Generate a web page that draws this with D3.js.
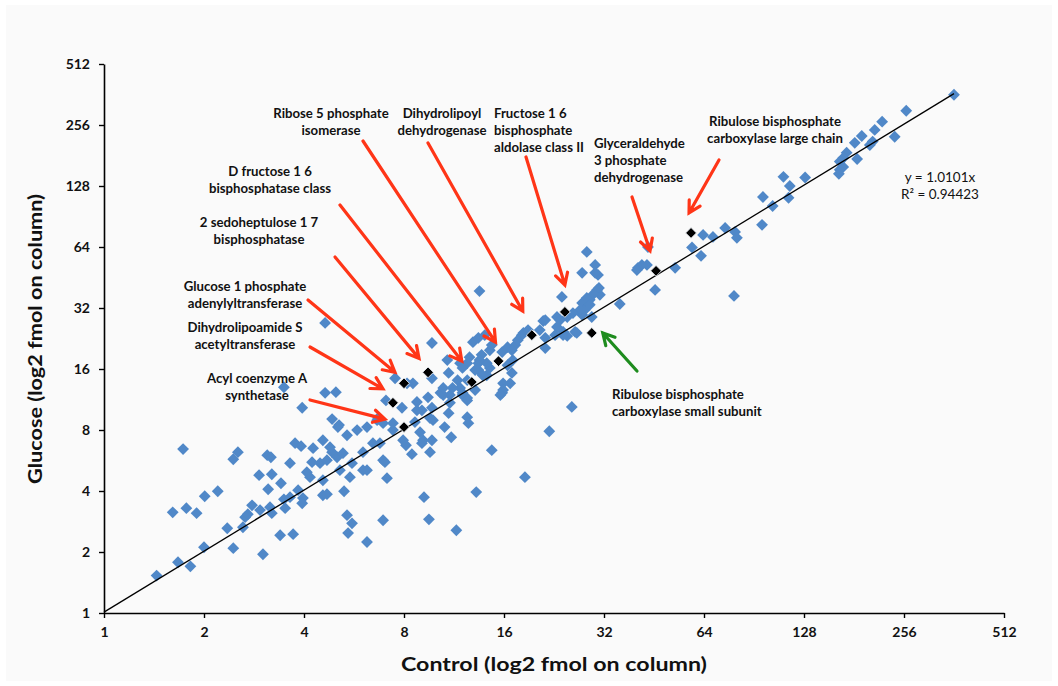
<!DOCTYPE html>
<html>
<head>
<meta charset="utf-8">
<script src="https://cdn.jsdelivr.net/npm/d3@7"></script>
<style>
  body { margin: 0; background: #ffffff; }
  svg text { font-family: Lato, "Open Sans", "Liberation Sans", sans-serif; fill: #111; }
</style>
</head>
<body>
<svg id="chart" width="1058" height="686"></svg>
<script>
// Protein amounts per spot, fmol on column: control vs glucose-grown cells
const controlValues = [
  1.44,1.67,1.82,1.73,1.61,1.77,1.90,2.00,2.01,2.20,2.35,2.45,2.45,2.53,2.62,2.66,2.71,2.79,2.93,2.95,
  3.01,3.10,3.18,3.12,3.16,3.20,3.20,3.39,3.41,3.48,3.51,3.48,3.63,3.63,3.71,3.76,3.92,3.84,3.97,3.95,
  3.95,4.17,4.23,4.47,4.56,4.56,4.69,4.86,4.63,4.99,5.06,5.03,5.24,4.79,4.86,5.28,5.39,5.43,5.10,5.58,
  6.19,6.02,4.63,5.39,5.78,6.19,6.64,6.92,4.69,5.58,6.02,6.45,4.26,4.08,4.56,5.13,5.50,7.11,6.77,6.92,
  7.41,7.06,7.52,7.89,8.75,9.45,9.71,10.5,10.9,9.78,10.6,11.1,9.13,8.11,8.45,9.58,6.68,7.41,8.63,8.94,
  9.58,9.71,9.06,7.95,7.01,6.19,8.51,9.06,8.75,9.71,10.9,11.8,10.8,10.3,11.0,10.5,12.4,12.6,12.0,11.6,
  11.8,12.4,12.4,12.5,13.4,13.8,13.4,12.9,13.4,14.0,14.5,13.7,15.8,16.4,17.3,18.3,21.0,21.3,23.1,17.0,
  16.9,15.9,15.8,14.7,21.9,18.5,9.71,14.5,11.2,12.0,13.5,23.9,27.5,30.1,30.7,28.4,41.6,40.5,45.6,35.7,
  30.5,31.1,29.0,27.5,28.0,24.8,23.6,23.1,24.1,24.8,26.2,27.5,21.3,20.5,18.9,18.1,17.6,21.3,22.8,26.5,
  16.9,16.4,16.7,15.9,15.6,25.6,14.7,14.2,13.5,14.2,13.1,12.4,13.1,12.0,12.4,11.0,8.17,30.1,30.9,29.6,
  28.4,29.0,29.4,27.1,25.8,24.1,40.2,43.1,43.4,52.4,58.9,62.7,63.6,68.1,74.1,79.4,80.4,95.7,78.8,362,
  260,220,209,191,182,206,202,240,172,168,164,185,168,164,163,129,111,116,115,103,
  96.3,13.2,11.5,9.19,9.51,6.92
];
const glucoseValues = [
  1.53,1.78,1.70,6.44,3.14,3.29,3.11,2.11,3.77,3.99,2.62,2.09,5.74,6.22,2.65,2.97,3.07,3.40,4.79,3.22,
  1.95,6.01,5.87,4.08,3.33,4.84,3.11,2.42,4.37,13.0,3.29,3.64,3.73,5.49,2.45,6.89,6.66,4.04,3.69,3.48,
  10.3,4.68,5.55,5.49,7.12,3.81,3.86,6.22,12.2,12.3,8.27,5.87,6.15,6.58,9.06,3.99,3.04,2.48,8.46,2.77,
  2.24,5.07,27.0,7.54,7.99,8.27,8.95,8.65,5.68,5.49,6.22,6.89,6.51,4.95,4.52,5.07,4.68,4.63,6.89,5.68,
  7.99,11.2,14.4,10.3,11.0,11.6,10.3,11.9,9.69,8.95,8.27,7.37,7.12,6.73,6.08,6.22,9.16,8.65,8.75,7.80,
  9.16,7.12,6.89,7.12,5.55,5.07,13.6,10.0,10.0,14.4,15.3,17.1,17.7,12.2,11.9,12.9,17.1,18.3,16.2,14.1,
  12.9,11.5,9.26,8.65,15.8,14.9,17.1,21.7,22.8,23.5,19.8,18.8,19.4,20.5,21.0,24.1,27.6,20.3,28.9,17.7,
  15.3,13.6,12.2,6.36,7.89,4.68,21.5,16.2,12.9,11.9,38.8,36.3,47.7,52.2,46.6,60.5,52.2,50.5,39.3,33.5,
  39.3,37.2,35.1,33.9,31.3,28.9,27.9,25.8,24.4,23.3,24.4,29.6,27.9,24.9,24.9,23.5,22.2,22.8,23.5,24.1,
  19.8,16.7,13.6,12.6,11.9,10.4,21.0,17.1,17.7,14.9,15.8,14.1,12.6,12.2,11.2,10.9,13.6,47.7,40.2,37.2,
  35.9,33.2,28.9,31.3,30.2,23.5,49.3,52.2,64.0,50.5,63.7,57.9,73.4,71.8,79.5,76.0,71.0,82.3,36.7,361,
  301,266,242,226,209,212,204,224,187,176,169,174,159,154,147,141,142,128,112,102,
  113,3.95,2.56,3.73,2.90,2.87
];

// Named proteins picked out in black
const namedProteins = [
  "Acyl coenzyme A synthetase",
  "Dihydrolipoamide S acetyltransferase",
  "Glucose 1 phosphate adenylyltransferase",
  "2 sedoheptulose 1 7 bisphosphatase",
  "D fructose 1 6 bisphosphatase class",
  "Ribose 5 phosphate isomerase",
  "Dihydrolipoyl dehydrogenase",
  "Fructose 1 6 bisphosphate aldolase class II",
  "Ribulose bisphosphate carboxylase small subunit",
  "Glyceraldehyde 3 phosphate dehydrogenase",
  "Ribulose bisphosphate carboxylase large chain"
];
const namedControl = [8.0, 7.41, 8.0, 9.45, 12.8, 15.4, 19.4, 24.4, 29.4, 45.9, 58.5];
const namedGlucose = [8.27, 10.9, 13.6, 15.4, 13.8, 17.5, 23.5, 30.6, 24.1, 48.8, 75.1];

const axisTicks = [1, 2, 4, 8, 16, 32, 64, 128, 256, 512];
const fitSlope = 1.0101;
const fitR2 = 0.94423;

// Annotation layout: label lines, text anchor, and arrow tail; the arrow tip
// sits next to the protein's own marker (offset in px).
const annotations = [
  { name: namedProteins[5], lines: ["Ribose 5 phosphate", "isomerase"], tx: 331, ty: 113, anchor: "middle", tail: [363, 141], tipOff: [-3, -19], color: "#ff3517" },
  { name: namedProteins[6], lines: ["Dihydrolipoyl", "dehydrogenase"], tx: 442, ty: 113, anchor: "middle", tail: [428, 143], tipOff: [-9, -24], color: "#ff3517" },
  { name: namedProteins[7], lines: ["Fructose 1 6", "bisphosphate", "aldolase class II"], tx: 494, ty: 113, anchor: "start", tail: [526, 157], tipOff: [0, -27], color: "#ff3517" },
  { name: namedProteins[9], lines: ["Glyceraldehyde", "3 phosphate", "dehydrogenase"], tx: 594, ty: 143, anchor: "start", tail: [632, 197], tipOff: [-6, -20], color: "#ff3517" },
  { name: namedProteins[10], lines: ["Ribulose bisphosphate", "carboxylase large chain"], tx: 775, ty: 121, anchor: "middle", tail: [719, 160], tipOff: [-2, -20], color: "#ff3517" },
  { name: namedProteins[4], lines: ["D fructose 1 6", "bisphosphatase class"], tx: 270, ty: 171, anchor: "middle", tail: [340, 205], tipOff: [-10, -21], color: "#ff3517" },
  { name: namedProteins[3], lines: ["2 sedoheptulose 1 7", "bisphosphatase"], tx: 259, ty: 222, anchor: "middle", tail: [335, 257], tipOff: [-9, -14], color: "#ff3517" },
  { name: namedProteins[2], lines: ["Glucose 1 phosphate", "adenylyltransferase"], tx: 245, ty: 286, anchor: "middle", tail: [308, 300], tipOff: [-9, -11], color: "#ff3517" },
  { name: namedProteins[1], lines: ["Dihydrolipoamide S", "acetyltransferase"], tx: 245, ty: 327, anchor: "middle", tail: [310, 347], tipOff: [-10, -14], color: "#ff3517" },
  { name: namedProteins[0], lines: ["Acyl coenzyme A", "synthetase"], tx: 257, ty: 378, anchor: "middle", tail: [310, 400], tipOff: [-19, -8], color: "#ff3517" },
  { name: namedProteins[8], lines: ["Ribulose bisphosphate", "carboxylase small subunit"], tx: 612, ty: 394, anchor: "start", tail: [637, 371], tipOff: [11, 0], color: "#1e8c1e" }
];

const svg = d3.select("#chart");
const W = 1058, H = 686;

// faint panel behind the whole chart
svg.append("rect").attr("x", 6).attr("y", 5).attr("width", W - 12).attr("height", H - 10)
  .attr("fill", "#fafafa");

const x = d3.scaleLog().base(2).domain([1, 512]).range([104, 1004]);
const y = d3.scaleLog().base(2).domain([1, 512]).range([613, 64]);

// axes
const fmt = d3.format("d");
const xAxis = svg.append("g").attr("transform", `translate(0,${y(1)})`)
  .call(d3.axisBottom(x).tickValues(axisTicks).tickFormat(fmt).tickSize(5).tickSizeOuter(0).tickPadding(9));
const yAxis = svg.append("g").attr("transform", `translate(${x(1)},0)`)
  .call(d3.axisLeft(y).tickValues(axisTicks).tickFormat(fmt).tickSize(5).tickSizeOuter(0).tickPadding(9));
[xAxis, yAxis].forEach(g => {
  g.select(".domain").attr("stroke", "#000").attr("stroke-width", 1.6);
  g.selectAll(".tick line").attr("stroke", "#000").attr("stroke-width", 1.4);
  g.selectAll(".tick text").attr("font-size", 14).attr("font-weight", "bold")
    .attr("font-family", "Lato, 'Open Sans', sans-serif").attr("fill", "#111");
});

svg.append("text").attr("x", 554).attr("y", 671).attr("text-anchor", "middle")
  .attr("font-size", 18.5).attr("font-weight", "bold")
  .attr("textLength", 306).attr("lengthAdjust", "spacingAndGlyphs")
  .text("Control (log2 fmol on column)");
svg.append("text").attr("transform", "translate(42,339) rotate(-90)").attr("text-anchor", "middle")
  .attr("font-size", 18.5).attr("font-weight", "bold")
  .attr("textLength", 290).attr("lengthAdjust", "spacingAndGlyphs")
  .text("Glucose (log2 fmol on column)");

// diamonds
const diamond = d3.symbol().type(d3.symbolSquare).size(70)();
const points = controlValues.map((c, i) => ({ c, g: glucoseValues[i] }));
svg.append("g").selectAll("path").data(points).join("path")
  .attr("d", diamond)
  .attr("transform", d => `translate(${x(d.c)},${y(d.g)}) rotate(45)`)
  .attr("fill", "#5088c8");

// fitted line through origin, y = 1.0101x
const xMax = d3.max(controlValues);
svg.append("path")
  .datum([1, xMax])
  .attr("d", d3.line().x(d => x(d)).y(d => y(fitSlope * d)))
  .attr("stroke", "#000").attr("stroke-width", 1.3).attr("fill", "none");

// named proteins
const named = namedControl.map((c, i) => ({ c, g: namedGlucose[i], name: namedProteins[i] }));
const smallDiamond = d3.symbol().type(d3.symbolSquare).size(58)();
svg.append("g").selectAll("path").data(named).join("path")
  .attr("d", smallDiamond)
  .attr("transform", d => `translate(${x(d.c)},${y(d.g)}) rotate(45)`)
  .attr("fill", "#000").attr("stroke", "#eef3f9").attr("stroke-width", 0.8);

// trend equation
const eq = svg.append("text").attr("x", 940).attr("y", 182).attr("text-anchor", "middle").attr("font-size", 13.5);
eq.append("tspan").attr("x", 940).attr("dy", 0).text(`y = ${fitSlope}x`);
eq.append("tspan").attr("x", 940).attr("dy", 17).text(`R² = ${fitR2}`);

// labels and arrows
const ann = svg.append("g");
annotations.forEach(a => {
  const t = ann.append("text").attr("x", a.tx).attr("y", a.ty + 4.5).attr("text-anchor", a.anchor)
    .attr("font-size", 13.2).attr("font-weight", "bold");
  a.lines.forEach((ln, i) => t.append("tspan").attr("x", a.tx).attr("dy", i === 0 ? 0 : 17).text(ln));

  const p = named.find(n => n.name === a.name);
  const tip = [x(p.c) + a.tipOff[0], y(p.g) + a.tipOff[1]];
  const [tx0, ty0] = a.tail;
  const ang = Math.atan2(tip[1] - ty0, tip[0] - tx0);
  const arm = 13, spread = 0.5;
  const l1 = [tip[0] - arm * Math.cos(ang - spread), tip[1] - arm * Math.sin(ang - spread)];
  const l2 = [tip[0] - arm * Math.cos(ang + spread), tip[1] - arm * Math.sin(ang + spread)];
  ann.append("path")
    .attr("d", `M${tx0},${ty0}L${tip[0]},${tip[1]}M${l1[0]},${l1[1]}L${tip[0]},${tip[1]}L${l2[0]},${l2[1]}`)
    .attr("stroke", a.color).attr("stroke-width", 3.2).attr("fill", "none")
    .attr("stroke-linecap", "round").attr("stroke-linejoin", "miter");
});
</script>
</body>
</html>
